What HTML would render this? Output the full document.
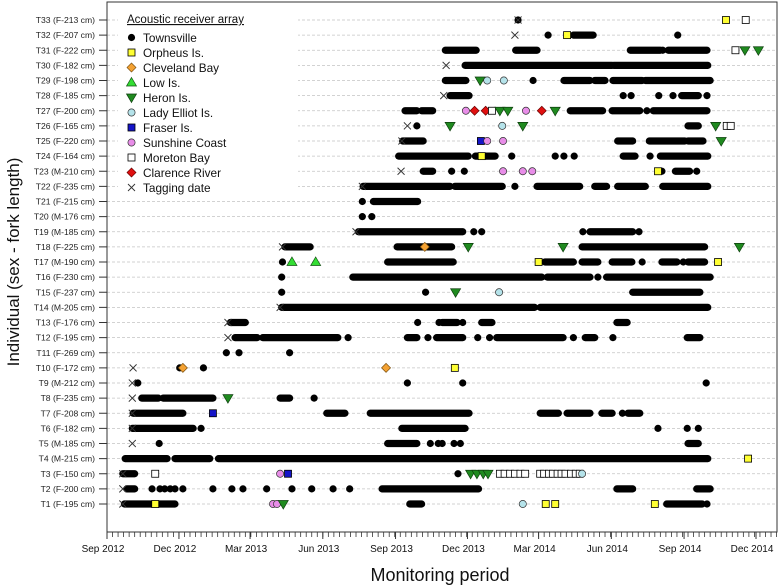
<!DOCTYPE html>
<html><head><meta charset="utf-8"><style>
body{margin:0;background:#fff;}
svg{display:block;font-family:"Liberation Sans",Arial,sans-serif;}
</style></head><body>
<svg id="chart" width="780" height="585" viewBox="0 0 780 585" xmlns="http://www.w3.org/2000/svg">
<g id="grid"></g>
<g id="marks"></g>
<rect x="107" y="2" width="670" height="530" fill="none" stroke="#333" stroke-width="1"/>
<g id="yaxis"></g>
<g id="xaxis"></g>
<text x="440" y="581" font-size="18" text-anchor="middle" fill="#111">Monitoring period</text>
<text transform="translate(19,262) rotate(-90)" font-size="17" text-anchor="middle" fill="#111">Individual (sex - fork length)</text>
<g id="legend"></g>
</svg>
<script>
const individuals=["T1 (F-195 cm)","T2 (F-200 cm)","T3 (F-150 cm)","T4 (M-215 cm)","T5 (M-185 cm)","T6 (F-182 cm)","T7 (F-208 cm)","T8 (F-235 cm)","T9 (M-212 cm)","T10 (F-172 cm)","T11 (F-269 cm)","T12 (F-195 cm)","T13 (F-176 cm)","T14 (M-205 cm)","T15 (F-237 cm)","T16 (F-230 cm)","T17 (M-190 cm)","T18 (F-225 cm)","T19 (M-185 cm)","T20 (M-176 cm)","T21 (F-215 cm)","T22 (F-235 cm)","T23 (M-210 cm)","T24 (F-164 cm)","T25 (F-220 cm)","T26 (F-165 cm)","T27 (F-200 cm)","T28 (F-185 cm)","T29 (F-198 cm)","T30 (F-182 cm)","T31 (F-222 cm)","T32 (F-207 cm)","T33 (F-213 cm)"];
// tagging dates: days since 1 Sep 2012 (null = not shown)
const tagDays=[20,20,20,null,32,32,32,32,32,33,null,153,153,219,null,null,null,222,315,null,null,323,372,null,373,380,null,426,null,429,null,516,520];
// Townsville detection periods [startDay,endDay] per individual
const townsvilleRuns=[
[[22,86],[383,398],[708,753],[759,759]],
[[25,35],[57,57],[67,67],[73,73],[80,80],[86,86],[96,96],[134,134],[158,158],[172,172],[202,202],[234,234],[259,259],[286,286],[307,307],[348,470],[645,665],[746,763]],
[[20,35],[444,444]],
[[23,76],[86,130],[141,760]],
[[66,66],[355,392],[409,409],[419,419],[424,424],[439,439],[447,447],[735,748]],
[[32,109],[119,119],[373,453],[697,697],[734,734],[748,748]],
[[33,96],[278,301],[333,458],[548,571],[582,611],[626,639],[652,652],[659,674]],
[[44,65],[71,134],[219,231],[262,262]],
[[39,39],[380,380],[450,450],[758,758]],
[[92,92],[122,122]],
[[151,151],[167,167],[231,231]],
[[162,190],[197,292],[305,305],[380,392],[406,406],[417,450],[469,469],[484,484],[493,577],[590,590],[605,617],[640,640],[734,750]],
[[156,175],[393,393],[420,420],[424,443],[450,450],[474,487],[645,658]],
[[221,541],[548,760]],
[[221,221],[403,403],[665,750]],
[[221,221],[311,550],[557,611],[621,621],[632,763]],
[[222,222],[355,438],[554,590],[601,621],[639,664],[677,677],[702,721],[729,729],[735,756]],
[[225,257],[367,436],[601,756]],
[[318,450],[464,464],[474,474],[602,602],[611,665],[673,673]],
[[323,323],[335,335]],
[[323,323],[337,393]],
[[324,434],[440,500],[516,516],[544,598],[617,632],[646,681],[703,760]],
[[400,412],[436,436],[452,452],[702,702],[719,737],[746,746]],
[[369,457],[466,491],[512,512],[567,567],[578,578],[591,591],[653,668],[687,687],[700,760]],
[[374,400],[646,665],[686,731],[735,754]],
[[392,392],[735,748]],
[[377,392],[398,412],[586,627],[639,674],[683,683],[691,759]],
[[434,458],[653,653],[663,663],[698,698],[716,716],[727,748],[759,759]],
[[428,454],[539,539],[578,611],[617,630],[640,677],[681,763]],
[[453,639],[641,760]],
[[428,467],[517,544],[662,700],[703,703],[710,759]],
[[558,558],[590,615],[722,722]],
[[520,520]]
];
// other receiver detections: individual index (0=T1), day, array code
const detRow=[0,0,0,0,0,0,0,0, 2,2,2,2,2,2,2,2,2,2,2,2,2,2,2,2,2,2,2,2,2,2,2,2, 3,6,7,9,9,9,14,14,16,16,16,16,17,17,17,17, 22,22,22,22, 23, 24,24,24,24, 25,25,25,25,25,25, 26,26,26,26,26,26,26,26,26, 28,28,28, 30,30,30, 31, 32,32];
const detDay=[61,210,215,223,526,555,567,693, 61,219,229,460,468,476,482,497,503,510,516,523,529,548,553,559,564,570,575,580,587,593,598,601, 811,134,153,96,353,440,441,496,234,264,546,773,402,457,577,800, 501,526,538,697, 474, 473,481,501,777, 434,500,526,770,784,789, 454,465,479,487,497,507,530,550,567, 472,481,502, 795,807,824, 582, 783,808];
const detType=["orph","pink","pink","heron","lady","orph","orph","orph", "moreton","pink","fraser","heron","heron","heron","heron","moreton","moreton","moreton","moreton","moreton","moreton","moreton","moreton","moreton","moreton","moreton","moreton","moreton","moreton","moreton","moreton","lady", "orph","fraser","heron","clev","clev","orph","heron","lady","low","low","orph","orph","clev","heron","heron","heron", "pink","pink","pink","orph", "orph", "fraser","pink","pink","heron", "heron","lady","heron","heron","moreton","moreton", "pink","clarence","clarence","moreton","heron","heron","pink","clarence","heron", "heron","lady","lady", "moreton","heron","heron", "orph", "orph","moreton"];
const tickLabels=["Sep 2012","Dec 2012","Mar 2013","Jun 2013","Sep 2013","Dec 2013","Mar 2014","Jun 2014","Sep 2014","Dec 2014"];
const tickDays=[0,91,181,273,365,456,546,638,730,821];

const NS="http://www.w3.org/2000/svg";
const X0=107,PXD=0.7905;
function xs(d){return X0+d*PXD;}
function ys(i){return 504-i*15.125;}
function mk(tag,attrs,parent){const e=document.createElementNS(NS,tag);for(const k in attrs)e.setAttribute(k,attrs[k]);parent.appendChild(e);return e;}
const grid=document.getElementById('grid'),marks=document.getElementById('marks'),yax=document.getElementById('yaxis'),xax=document.getElementById('xaxis'),leg=document.getElementById('legend');

function symbol(type,cx,cy,parent){
  let e;
  if(type==="town"){e=mk('circle',{cx:cx,cy:cy,r:3.6,fill:'#000'},parent);}
  else if(type==="orph"){e=mk('rect',{x:cx-3.5,y:cy-3.5,width:7,height:7,fill:'#ffff33',stroke:'#000','stroke-width':0.8},parent);}
  else if(type==="fraser"){e=mk('rect',{x:cx-3.5,y:cy-3.5,width:7,height:7,fill:'#1515c8',stroke:'#000','stroke-width':0.8},parent);}
  else if(type==="moreton"){e=mk('rect',{x:cx-3.5,y:cy-3.5,width:7,height:7,fill:'#fff',stroke:'#000','stroke-width':0.8},parent);}
  else if(type==="clev"){e=mk('polygon',{points:`${cx},${cy-4.5} ${cx+4.5},${cy} ${cx},${cy+4.5} ${cx-4.5},${cy}`,fill:'#f4a233',stroke:'#7a5010','stroke-width':0.7},parent);}
  else if(type==="clarence"){e=mk('polygon',{points:`${cx},${cy-4.5} ${cx+4.5},${cy} ${cx},${cy+4.5} ${cx-4.5},${cy}`,fill:'#e01010',stroke:'#600','stroke-width':0.7},parent);}
  else if(type==="low"){e=mk('polygon',{points:`${cx},${cy-5} ${cx+5},${cy+3.5} ${cx-5},${cy+3.5}`,fill:'#33dd33',stroke:'#135213','stroke-width':0.7},parent);}
  else if(type==="heron"){e=mk('polygon',{points:`${cx},${cy+5} ${cx+5},${cy-3.5} ${cx-5},${cy-3.5}`,fill:'#1f8a1f',stroke:'#0d3d0d','stroke-width':0.7},parent);}
  else if(type==="lady"){e=mk('circle',{cx:cx,cy:cy,r:3.6,fill:'#b5e3ea',stroke:'#333','stroke-width':0.7},parent);}
  else if(type==="pink"){e=mk('circle',{cx:cx,cy:cy,r:3.6,fill:'#e88de8',stroke:'#333','stroke-width':0.7},parent);}
  else if(type==="tag"){e=mk('path',{d:`M${cx-3.5} ${cy-3.5}L${cx+3.5} ${cy+3.5}M${cx-3.5} ${cy+3.5}L${cx+3.5} ${cy-3.5}`,stroke:'#333','stroke-width':0.9,fill:'none'},parent);}
  return e;
}

// grid + y axis
individuals.forEach((lab,i)=>{
  const y=ys(i);
  const g=mk('line',{x1:X0,x2:777,y1:y,y2:y,stroke:'#c4c4c4','stroke-width':0.8,'stroke-dasharray':'3,2'},grid);
  
  
  const t=mk('line',{x1:99,x2:107,y1:y,y2:y,stroke:'#333','stroke-width':1},yax);
  
  
  const tx=mk('text',{x:95,y:y+3,'font-size':8.6,'text-anchor':'end',fill:'#222'},yax);
  tx.textContent=lab;
  
  
});

// x axis
for(let d=0;d<=847;d+=7){
  const t=mk('line',{x1:xs(d),x2:xs(d),y1:532,y2:537,stroke:'#333','stroke-width':0.8},xax);
  
  
}
tickLabels.forEach((lab,i)=>{
  const t=mk('line',{x1:xs(tickDays[i]),x2:xs(tickDays[i]),y1:532,y2:539,stroke:'#333','stroke-width':1},xax);
  
  
  const tx=mk('text',{x:xs(tickDays[i])-4,y:552,'font-size':10,'text-anchor':'middle',fill:'#111'},xax);
  tx.textContent=lab;
  
  
});

// Townsville runs
townsvilleRuns.forEach((runs,i)=>{
  runs.forEach(r=>{
    const l=mk('line',{x1:xs(r[0]),x2:xs(r[1]),y1:ys(i),y2:ys(i),stroke:'#000','stroke-width':7.2,'stroke-linecap':'round'},marks);
    
    
  });
});
// other receivers
detRow.forEach((r,k)=>{
  const e=symbol(detType[k],xs(detDay[k]),ys(r),marks);
  
  
});
// tagging dates
tagDays.forEach((d,i)=>{
  if(d===null)return;
  const e=symbol('tag',xs(d),ys(i),marks);
  
  
});

// legend
const legBg=mk('rect',{x:118,y:8,width:180,height:180,fill:'#fff'},leg);


const lt=mk('text',{x:127,y:23,'font-size':11.5,fill:'#111','text-decoration':'underline'},leg);
lt.textContent='Acoustic receiver array';


const legTypes=["town","orph","clev","low","heron","lady","fraser","pink","moreton","clarence","tag"];
const legNames=["Townsville","Orpheus Is.","Cleveland Bay","Low Is.","Heron Is.","Lady Elliot Is.","Fraser Is.","Sunshine Coast","Moreton Bay","Clarence River","Tagging date"];
legTypes.forEach((t,i)=>{
  const y=37.5+i*15;
  const s=symbol(t,131.5,y,leg);
  
  
  const tx=mk('text',{x:143,y:y+4.3,'font-size':11.8,fill:'#111'},leg);
  tx.textContent=legNames[i];
  
  
});
</script>
</body></html>
